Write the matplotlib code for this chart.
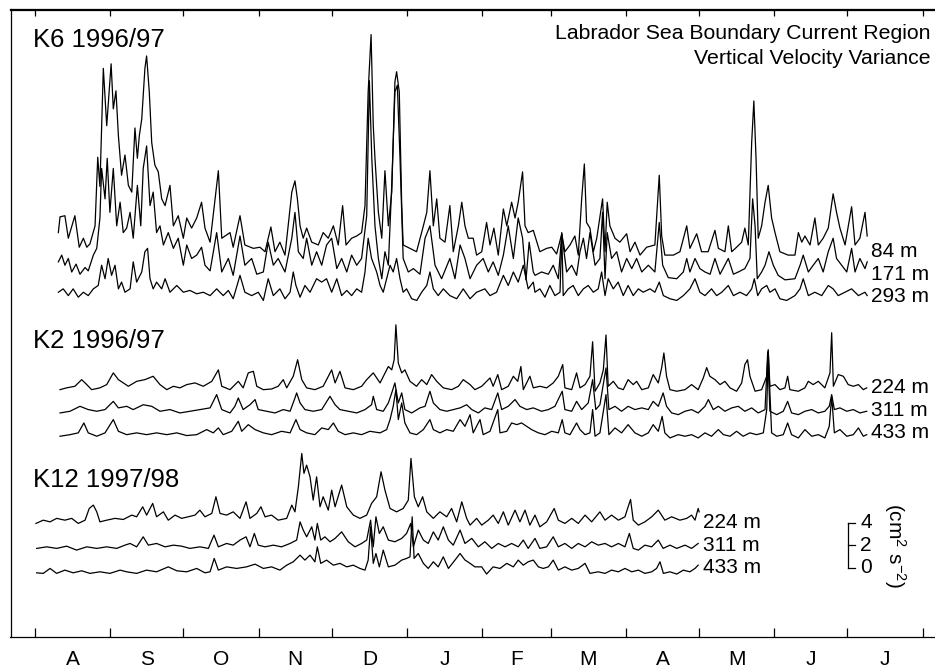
import numpy as np
import matplotlib
matplotlib.use('Agg')
import matplotlib.pyplot as plt

plt.rcParams['font.family'] = ['Liberation Sans', 'DejaVu Sans']
plt.rcParams['mathtext.fontset'] = 'custom'
plt.rcParams['mathtext.rm'] = 'Liberation Sans'
plt.rcParams['mathtext.it'] = 'Liberation Sans:italic'

# ---------------- data: days since 1 Aug, variance (cm^2 s^-2) ----------------
month_starts = [0, 31, 61, 92, 122, 153, 184, 212, 243, 273, 304, 334, 365]
month_labels = ['A', 'S', 'O', 'N', 'D', 'J', 'F', 'M', 'A', 'M', 'J', 'J']

k6_84_day = [9.6,10.3,12.3,13.7,16.4,18.2,19.9,21.3,22.6,24.7,
 25.8,26.7,28.1,29.5,31.3,32.2,33.3,34.3,35.6,37.0,
 38.4,39.8,41.1,42.1,42.9,43.9,45.2,45.9,47.0,48.0,
 49.3,50.7,52.1,53.5,55.5,56.9,58.9,61.0,62.4,64.4,
 66.5,68.5,69.9,72.0,75.4,76.8,80.2,81.5,84.3,86.3,
 89.8,92.5,94.6,97.0,98.7,100.7,102.8,105.6,106.9,107.9,
 109.0,110.3,111.7,113.8,116.5,118.5,120.6,122.7,124.7,126.5,
 127.9,130.2,132.3,134.3,135.7,137.0,138.2,139.1,139.8,141.2,
 142.6,143.9,145.3,146.7,148.0,148.7,149.8,150.8,151.4,154.2,
 156.9,159.7,161.1,162.4,163.8,165.2,166.5,168.6,170.6,172.0,
 174.1,175.5,176.8,178.2,180.2,181.6,183.7,185.7,187.1,188.7,
 190.5,192.6,194.0,196.0,197.4,198.7,200.5,201.5,202.8,204.9,
 207.6,210.4,212.5,214.5,216.6,217.9,220.0,222.0,223.4,224.8,
 225.9,226.8,228.2,229.6,231.0,233.4,234.4,235.3,236.4,238.5,
 240.5,243.3,244.7,246.7,248.8,251.5,254.9,256.7,257.7,259.0,
 262.5,265.2,268.0,269.3,272.1,274.1,276.8,279.6,281.0,283.7,
 285.1,286.5,288.5,290.6,291.9,293.3,294.7,295.6,296.5,297.4,
 298.8,300.2,301.5,302.9,304.3,306.3,309.7,312.5,313.9,315.3,
 316.6,318.7,320.7,322.1,324.1,326.2,328.2,329.6,331.0,333.1,
 335.8,337.2,339.2,341.3,342.2]
k6_84_val = [2.3,3.7,3.8,1.8,3.8,1.0,1.8,1.0,1.3,2.9,
 9.0,6.4,16.9,11.8,17.3,13.3,14.9,10.9,7.4,9.2,
 6.5,5.9,11.6,8.9,10.9,12.4,16.9,18.0,14.8,10.3,
 8.3,7.7,5.3,4.7,6.5,2.9,3.8,1.8,3.6,2.7,
 3.6,5.0,2.7,1.45,7.8,1.8,2.3,1.0,3.8,1.2,
 0.9,1.0,0.6,2.8,0.6,1.45,0.3,5.9,6.9,5.3,
 2.9,1.8,2.7,1.45,1.2,2.3,1.8,2.9,1.2,4.7,
 1.2,1.8,2.0,2.3,4.7,14.8,19.9,11.8,8.9,4.1,
 1.8,7.8,2.9,5.9,15.7,16.6,14.8,4.7,1.2,0.9,
 0.6,2.9,4.1,7.8,2.9,5.3,1.8,1.45,4.7,0.6,
 2.9,5.0,2.9,1.8,1.8,0.3,0.6,3.2,1.2,2.7,
 0.3,4.4,2.9,5.0,3.6,5.0,7.7,2.9,2.3,2.5,
 0.6,0.9,1.0,0.4,2.2,0.6,1.2,2.0,0.3,5.3,
 8.4,3.2,2.7,0.6,1.8,5.3,0.6,5.0,2.9,1.8,
 1.45,2.2,0.6,1.45,0.3,1.0,1.2,7.4,2.0,0.3,
 0.3,0.6,2.9,0.9,2.2,0.6,0.6,2.5,0.9,0.6,
 2.9,0.6,1.0,1.45,2.7,1.2,10.3,14.0,8.9,1.8,
 2.9,5.0,6.5,3.6,2.3,0.6,0.3,0.3,2.3,1.45,
 2.0,1.2,3.6,1.2,1.8,2.7,5.75,4.1,2.7,1.2,
 4.6,1.2,1.8,4.1,2.0]

k6_171_day = [9.6,11.0,12.3,13.7,15.1,16.9,18.5,20.6,21.9,24.0,
 25.4,26.7,27.4,28.8,29.7,30.8,32.2,33.6,35.0,36.3,
 37.7,39.1,40.4,42.1,43.5,44.5,45.9,47.3,48.6,50.0,
 51.4,52.8,54.8,56.9,58.9,61.0,62.4,64.4,66.5,68.5,
 69.9,72.0,74.7,76.8,79.5,81.5,84.3,86.3,89.1,91.2,
 93.9,95.9,98.0,100.0,102.8,105.6,106.9,108.3,110.3,111.7,
 113.8,115.8,117.9,119.9,122.0,124.1,126.1,128.2,130.2,132.3,
 134.3,136.4,137.5,138.5,139.8,141.2,142.6,143.9,145.3,146.7,
 148.0,149.0,150.1,151.4,153.5,155.6,158.3,160.4,162.4,164.5,
 167.2,170.6,172.7,174.8,176.8,178.9,181.6,184.3,186.4,188.4,
 190.5,192.6,194.6,196.7,198.7,200.5,201.9,203.2,204.9,205.6,
 208.3,211.1,213.1,215.2,216.6,218.6,220.7,222.7,224.1,225.5,
 226.8,228.2,230.3,232.3,233.4,234.4,235.3,237.1,239.2,241.2,
 243.3,245.4,247.4,249.5,252.2,254.9,256.7,258.1,260.4,263.9,
 266.6,268.0,269.3,271.4,273.4,275.5,277.6,279.6,281.7,285.1,
 287.2,289.2,291.9,294.0,295.1,296.1,297.0,298.8,300.2,301.8,
 303.6,305.6,308.4,312.5,314.6,315.9,318.0,320.0,322.1,324.1,
 326.2,328.2,329.6,331.7,333.8,335.8,337.2,339.2,341.3,342.2]
k6_171_val = [1.7,2.3,1.4,2.0,0.8,1.5,0.6,1.2,0.9,2.3,
 2.9,5.6,10.0,7.3,10.9,6.1,10.0,4.9,7.0,4.3,
 4.7,6.1,3.8,8.5,4.9,10.0,12.0,6.7,7.9,4.3,
 4.9,3.2,4.3,2.9,3.8,1.4,3.2,2.0,2.3,3.0,
 1.4,0.9,4.3,0.8,2.0,0.5,4.0,1.4,2.0,0.6,
 0.8,3.45,1.4,2.0,0.8,3.8,6.1,2.6,2.0,3.8,
 1.4,2.6,1.4,3.2,3.8,1.1,2.0,0.8,2.3,1.4,
 2.0,5.8,17.8,10.9,4.9,2.0,0.2,2.6,1.4,8.5,
 16.8,17.4,10.9,2.0,0.8,1.1,0.6,3.8,4.9,1.4,
 0.2,2.0,0.2,3.2,2.0,0.2,1.4,2.0,0.8,1.7,
 0.5,2.3,4.9,2.0,5.6,3.8,0.1,3.45,0.8,0.5,
 0.8,0.6,1.4,0.2,4.2,0.8,1.4,0.5,2.6,3.8,
 2.0,4.3,1.4,2.0,6.1,0.2,4.3,2.0,2.6,0.8,
 2.0,1.1,2.0,0.8,1.4,0.8,5.2,1.4,0.3,0.2,
 0.8,2.0,0.8,2.0,1.1,0.8,0.6,2.0,0.6,2.0,
 0.6,0.8,1.1,2.0,7.3,4.9,0.2,0.8,1.4,2.6,
 1.4,0.5,0.1,0.2,1.4,2.3,0.8,1.4,2.0,0.8,
 2.6,3.8,2.0,1.4,0.8,2.9,0.8,2.0,1.1,1.7]

k6_293_day = [9.6,11.6,13.7,15.7,17.8,19.9,21.9,24.0,26.0,27.4,
 28.8,30.1,31.5,32.9,34.3,35.6,37.0,39.1,40.4,41.8,
 43.9,45.2,46.3,47.3,48.6,50.0,52.1,53.5,55.5,58.3,
 61.0,63.7,66.5,69.2,72.0,74.7,77.4,79.5,81.5,84.3,
 86.3,89.1,91.8,93.9,95.9,98.0,100.7,102.8,104.9,106.2,
 107.3,109.0,111.0,113.1,115.8,117.9,119.9,122.0,124.1,126.1,
 128.2,130.2,132.3,134.3,135.7,137.0,138.4,140.5,141.9,143.2,
 144.6,146.0,147.3,148.7,150.1,151.4,152.8,154.9,157.0,159.0,
 161.1,162.4,163.8,165.8,167.9,170.6,173.4,176.1,178.9,181.6,
 185.0,187.1,189.8,192.6,194.6,196.7,198.7,200.8,202.8,204.9,
 205.6,207.6,209.7,211.7,213.8,215.9,216.6,217.2,219.3,221.3,
 223.4,225.5,227.5,229.6,231.6,233.0,234.4,235.7,237.8,239.8,
 241.9,243.9,246.0,248.1,250.1,252.9,254.9,256.7,258.4,261.1,
 263.9,266.6,269.3,271.4,273.4,275.5,278.2,280.3,282.4,285.1,
 287.2,289.9,292.6,294.7,295.8,297.2,298.8,300.9,302.2,304.3,
 306.3,309.1,312.5,314.6,315.9,318.0,320.7,323.5,326.2,328.2,
 330.3,333.1,335.8,338.6,341.3,342.2]
k6_293_val = [1.0,1.3,0.7,1.3,0.56,1.0,0.7,1.3,1.6,3.4,
 2.2,4.0,2.5,3.4,1.3,1.9,1.0,1.3,3.7,1.9,
 2.8,4.6,4.9,2.2,1.3,1.9,1.3,2.2,1.0,1.6,
 1.0,1.16,0.86,1.0,0.7,1.3,0.7,1.16,0.42,2.5,
 1.0,0.7,1.0,0.27,2.2,0.7,1.3,0.42,1.0,2.8,
 1.6,0.56,1.6,1.0,2.2,1.9,2.2,1.0,2.2,0.7,
 1.16,0.7,1.3,1.0,2.8,5.8,4.0,2.8,1.6,1.0,
 2.2,3.4,2.8,4.0,2.2,1.0,1.3,0.42,0.27,1.0,
 1.6,2.8,1.3,0.7,1.3,0.7,0.42,1.3,0.42,1.0,
 1.3,0.7,1.0,2.5,1.6,2.8,1.9,3.4,1.3,1.9,
 1.0,1.3,0.56,1.6,0.7,1.0,6.3,0.7,1.3,1.6,
 0.7,1.3,1.6,1.0,1.3,2.8,0.7,2.2,1.3,1.9,
 0.7,1.6,0.7,1.3,1.0,1.3,1.0,1.9,0.7,0.42,
 0.27,0.7,1.3,2.2,1.0,0.7,1.3,0.7,1.0,1.6,
 0.7,1.0,0.7,1.3,2.2,0.7,1.3,1.6,1.0,1.3,
 0.42,0.27,0.7,1.3,2.2,0.7,1.0,0.7,1.6,1.3,
 0.7,1.0,1.3,0.7,1.0,0.7]

k2_224_day = [10.3,13.0,16.4,19.2,21.3,23.3,26.7,29.5,32.2,34.3,
 36.3,38.4,41.8,45.2,48.6,51.4,54.2,56.9,59.6,62.4,
 65.8,69.2,72.7,75.4,76.8,80.2,83.6,85.6,87.7,89.8,
 91.2,93.9,97.3,100.0,102.1,103.5,106.2,108.0,109.7,111.7,
 115.1,118.5,122.0,123.4,125.4,127.5,130.9,134.3,136.4,139.1,
 141.9,145.3,146.7,147.7,148.4,149.4,150.8,152.1,154.2,156.9,
 159.0,161.1,163.1,165.2,167.9,171.3,174.1,176.1,178.9,180.9,
 183.7,187.1,188.4,190.3,191.9,194.6,196.7,198.5,199.8,200.8,
 203.5,204.9,207.6,210.4,213.1,215.2,217.0,217.9,220.7,222.7,
 224.1,226.2,228.2,229.3,230.3,232.3,233.7,234.8,235.7,237.8,
 239.8,241.9,243.9,246.0,247.4,249.5,252.2,254.2,256.3,257.7,
 258.6,259.7,261.1,263.9,267.3,270.0,272.7,274.8,276.2,277.5,
 279.6,281.7,283.7,285.8,288.5,290.6,291.9,293.0,294.0,296.1,
 298.8,300.9,301.5,302.2,304.3,306.3,308.4,309.5,310.4,313.9,
 316.6,318.0,320.0,322.1,324.8,326.9,327.6,328.3,330.3,332.4,
 334.4,336.5,338.6,340.6,342.0]
k2_224_val = [0.44,0.6,0.74,1.33,0.89,0.44,0.6,0.89,1.93,1.33,
 1.04,0.74,1.18,1.33,1.63,0.89,0.44,0.74,0.6,0.89,
 1.04,0.74,1.18,2.2,0.74,0.44,1.18,0.6,1.93,2.07,
 0.74,0.44,0.5,0.74,1.33,0.6,1.63,3.1,1.33,0.6,
 0.44,0.74,2.2,1.04,2.07,0.6,0.44,0.74,1.33,1.93,
 1.04,2.5,2.2,3.1,6.2,2.8,1.93,2.2,1.18,0.74,
 1.33,0.89,1.78,1.18,0.6,0.44,0.74,1.33,0.89,0.44,
 0.74,1.48,0.74,1.78,0.44,0.74,1.63,1.18,2.5,0.44,
 1.63,0.6,0.74,0.6,1.04,1.63,2.67,0.6,0.44,1.93,
 0.6,0.89,1.63,4.7,0.3,1.04,2.2,5.3,0.74,1.18,
 0.6,0.44,1.33,0.89,1.18,0.44,0.6,1.78,1.04,2.4,
 3.7,1.63,0.44,0.3,0.44,0.89,0.44,1.48,2.4,1.63,
 1.33,0.89,1.18,0.6,0.3,1.04,2.67,3.1,1.63,0.3,
 0.44,1.63,4.0,0.74,0.89,0.44,0.6,1.63,0.44,0.3,
 0.6,1.18,0.89,1.18,0.6,1.93,5.5,0.74,1.78,1.63,
 0.89,0.74,0.89,0.44,0.6]

k2_311_day = [10.3,14.4,18.5,21.9,25.4,28.8,32.2,34.3,37.7,40.4,
 44.5,48.0,51.4,55.5,59.6,63.7,67.8,72.0,74.7,76.8,
 80.2,82.2,83.6,85.6,88.4,90.5,91.8,95.3,98.7,102.1,
 104.9,106.9,107.6,109.0,111.0,114.4,117.9,121.3,123.4,125.4,
 128.8,132.3,135.7,138.4,139.1,140.5,143.2,145.3,146.7,148.0,
 149.4,150.8,152.1,154.9,158.3,160.4,162.4,163.8,166.5,169.3,
 172.0,174.8,177.5,179.6,182.3,185.0,187.8,190.3,191.9,194.6,
 197.4,199.4,202.2,204.9,208.3,211.1,213.8,216.8,217.9,220.7,
 222.7,224.8,227.5,229.3,230.6,232.3,234.8,236.0,238.5,241.2,
 243.9,246.7,249.5,252.2,254.2,256.3,258.3,259.7,261.8,264.5,
 267.3,270.0,272.7,275.5,276.9,278.9,281.0,283.7,286.5,289.2,
 291.9,294.7,297.4,300.2,301.3,302.2,305.0,307.7,309.5,311.1,
 313.9,316.6,319.4,322.1,324.8,326.6,327.6,328.7,331.0,333.8,
 336.5,339.2,342.0]
k2_311_val = [0.37,0.52,0.96,0.67,0.52,0.67,1.4,0.82,0.96,0.67,
 1.1,0.96,0.52,0.67,0.37,0.52,0.67,0.82,2.0,0.67,
 0.37,0.96,1.7,0.67,1.1,1.56,0.67,0.52,0.37,0.67,
 0.52,1.7,2.15,1.26,0.67,0.52,0.67,1.85,1.1,0.67,
 0.52,0.37,0.67,1.1,1.85,0.67,0.52,1.26,2.15,3.04,
 1.26,2.15,0.67,0.37,0.82,0.96,2.3,1.26,0.67,0.52,
 0.67,0.82,1.1,0.67,0.37,0.82,0.67,2.15,0.67,0.96,
 1.56,0.96,0.67,0.82,0.52,0.67,0.96,2.3,0.67,0.52,
 1.4,0.67,1.26,3.33,0.67,1.1,4.37,0.67,0.96,0.52,
 0.96,0.67,0.82,0.67,1.4,0.96,2.15,0.96,0.37,0.22,
 0.52,0.67,0.37,0.96,1.56,0.67,0.96,0.52,0.82,0.96,
 0.52,0.82,0.37,0.67,5.8,0.52,0.22,0.52,1.4,0.37,
 0.22,0.52,0.67,0.37,0.52,0.96,2.0,0.67,0.82,0.52,
 0.67,0.37,0.52]

k2_433_day = [10.3,14.4,17.8,20.1,21.9,25.4,28.8,32.2,34.3,37.7,
 41.8,45.9,50.0,54.2,58.3,62.4,66.5,70.6,73.3,75.4,
 77.4,80.9,83.6,85.0,87.7,90.5,93.9,97.3,101.4,104.9,
 107.3,109.0,111.7,115.1,117.9,120.6,122.7,124.7,127.5,130.9,
 134.3,137.7,141.9,144.6,146.0,147.3,148.4,149.4,150.8,152.1,
 154.2,156.9,159.7,162.4,163.8,166.5,169.3,172.0,174.8,176.8,
 178.9,180.2,183.0,184.3,187.1,190.3,191.2,194.0,196.0,198.1,
 200.1,202.2,204.2,207.0,209.7,212.5,215.2,216.8,217.9,220.0,
 222.7,224.1,226.2,228.2,229.3,230.3,232.3,234.8,236.0,238.5,
 241.2,243.9,246.7,249.5,252.2,254.2,256.3,257.9,259.0,261.1,
 264.5,267.3,270.0,272.7,275.5,278.2,281.0,283.1,285.8,288.5,
 291.2,294.0,296.7,299.5,300.9,301.5,302.9,305.0,307.7,309.5,
 311.1,313.9,316.6,319.4,322.1,324.8,326.6,327.6,328.7,331.0,
 333.8,336.5,338.6,340.6,342.0]
k2_433_val = [0.3,0.44,0.6,1.48,0.6,0.3,0.6,1.78,0.74,0.44,
 0.6,0.44,0.6,0.44,0.6,0.36,0.44,0.89,0.6,1.04,
 0.44,0.74,1.63,0.74,1.33,0.89,0.6,0.44,0.74,0.6,
 1.78,0.89,0.6,0.44,1.04,0.89,1.48,0.74,0.44,0.6,
 0.44,0.74,0.6,0.89,1.78,2.96,4.44,1.78,3.26,1.48,
 0.6,0.44,0.89,1.78,0.89,0.6,0.89,0.74,1.78,1.18,
 2.22,0.6,1.78,0.44,0.74,2.67,0.6,0.74,1.48,1.33,
 1.48,1.18,0.89,0.6,0.44,0.74,0.6,1.78,0.6,0.44,
 1.48,0.89,0.44,0.6,2.67,0.3,0.6,4.0,0.44,1.04,
 0.6,1.33,0.6,0.3,0.6,1.33,0.74,2.07,0.6,0.15,
 0.44,0.3,0.44,0.15,0.6,0.3,0.89,0.44,0.3,0.74,
 0.3,0.6,0.44,0.6,2.67,7.8,0.6,0.3,0.44,1.48,
 0.44,0.15,0.89,0.3,0.44,0.15,1.18,3.85,0.6,0.89,
 0.3,0.44,1.04,0.3,0.44]

k12_224_day = [0.4,3.4,6.2,8.9,12.3,15.1,17.8,20.6,22.3,24.0,
 25.4,26.7,29.5,32.9,36.3,39.8,41.8,44.3,45.9,48.4,
 50.0,52.8,54.8,57.6,60.3,63.0,65.8,67.8,69.9,72.7,
 74.4,76.1,78.8,81.5,84.3,86.8,88.4,91.2,92.9,94.6,
 97.3,100.0,103.5,105.6,106.9,108.3,109.7,110.6,111.7,113.1,
 114.4,115.8,117.2,118.5,120.6,122.0,123.4,126.1,128.2,130.9,
 133.6,136.4,138.4,140.5,142.3,143.9,146.0,148.7,151.4,153.5,
 154.6,156.0,157.6,159.4,161.1,163.8,166.5,169.3,171.3,173.4,
 175.5,177.5,178.9,181.6,183.7,186.4,188.4,190.5,192.6,194.6,
 197.4,199.4,201.5,203.5,205.6,207.6,210.4,213.5,215.2,217.9,
 220.7,223.4,226.2,228.9,232.3,234.4,237.1,239.9,242.6,243.9,
 244.9,246.0,248.1,250.8,253.6,256.3,259.0,261.8,265.2,268.0,
 270.0,271.4,272.7,273.1]
k12_224_val = [0.55,0.84,0.69,1.0,0.84,1.0,0.55,0.84,1.88,2.18,
 1.58,0.69,0.84,1.0,0.9,1.29,1.14,2.03,1.29,2.33,
 1.14,1.58,0.84,1.29,1.0,1.14,1.29,1.73,1.14,1.44,
 2.92,1.44,1.29,1.58,1.0,2.47,1.0,1.44,2.03,1.14,
 1.29,0.84,1.0,2.18,1.58,3.8,6.77,5.0,5.73,4.69,
 2.62,4.69,2.03,2.92,1.73,3.51,2.03,3.96,2.03,1.29,
 1.0,1.29,2.33,2.92,5.14,3.51,1.88,1.58,1.88,2.62,
 6.33,2.92,2.03,2.92,1.58,1.0,1.58,1.14,1.88,0.69,
 2.47,1.0,0.4,1.0,0.4,0.84,1.29,0.55,1.58,0.4,
 1.73,0.69,1.73,0.4,1.29,0.25,0.69,1.88,0.84,0.55,
 1.0,0.55,1.29,0.69,1.58,0.84,1.29,0.84,1.14,2.03,
 2.68,0.84,0.4,0.69,1.14,1.73,0.84,1.14,0.84,1.0,
 1.29,0.84,1.88,1.58]

k12_311_day = [0.7,4.8,8.9,13.0,17.1,21.3,25.4,29.5,33.6,37.0,
 39.1,41.8,44.5,46.6,50.0,53.5,56.9,60.3,63.7,67.8,
 71.3,73.6,75.4,78.8,81.5,84.3,86.8,88.4,90.2,91.8,
 94.6,98.0,101.4,104.9,107.6,109.0,110.3,111.7,113.8,115.1,
 116.1,117.5,119.2,121.3,123.4,126.1,128.8,131.6,134.3,136.4,
 138.0,139.1,140.2,141.6,143.2,145.3,148.0,150.8,152.8,154.5,
 155.6,157.6,159.7,161.7,163.8,165.8,167.9,170.0,172.0,174.8,
 176.8,179.6,182.3,185.0,187.8,190.5,193.3,196.0,198.7,200.8,
 202.8,205.6,207.6,210.4,213.1,215.2,217.9,220.7,223.4,226.2,
 228.9,231.6,234.4,237.1,239.9,242.6,244.4,246.0,248.1,250.8,
 253.6,256.3,258.3,261.1,263.9,267.3,270.0,272.7]
k12_311_val = [0.33,0.47,0.33,0.53,0.18,0.47,0.33,0.47,0.33,0.62,
 0.77,0.47,1.36,0.62,0.77,0.47,0.62,0.53,0.33,0.47,
 0.33,1.51,0.47,0.77,0.62,1.07,1.36,0.47,1.66,0.62,
 0.47,0.62,0.47,0.77,1.07,2.69,1.96,1.36,2.25,1.07,
 2.55,1.07,1.36,0.92,1.22,1.8,0.92,0.47,0.77,1.07,
 2.84,0.47,3.14,1.66,2.25,1.07,0.92,1.22,1.66,2.55,
 0.47,1.96,1.07,0.77,1.8,1.07,2.25,1.07,0.62,1.96,
 0.77,1.22,0.47,0.92,0.33,0.77,0.47,0.77,0.47,1.07,
 0.33,1.22,0.33,0.47,1.36,0.47,0.77,0.33,0.77,0.47,
 0.92,0.62,0.77,0.47,0.77,0.47,1.66,0.33,0.18,0.62,
 0.47,1.07,0.33,0.62,0.33,0.62,0.33,0.77]

k12_433_day = [0.7,3.4,6.2,8.9,12.3,15.7,19.2,22.6,26.7,30.8,
 35.0,37.7,41.8,45.9,50.0,54.8,58.3,62.4,66.5,69.9,
 72.0,73.7,75.4,78.8,82.9,87.0,90.5,93.9,97.3,100.7,
 103.5,106.2,109.0,111.0,113.1,115.1,116.1,117.5,119.9,122.7,
 125.4,128.2,130.9,133.6,135.7,137.0,138.0,139.1,140.2,141.6,
 143.2,145.3,148.0,150.8,152.8,154.2,155.1,155.9,157.6,159.7,
 161.7,163.8,165.8,167.9,170.0,172.7,174.8,176.8,178.9,180.9,
 183.7,185.7,188.4,191.2,194.0,196.7,198.7,200.8,202.8,204.9,
 207.0,209.0,211.1,213.1,215.2,217.9,220.7,223.4,226.2,228.2,
 231.6,234.4,237.1,239.9,242.6,245.4,248.1,250.8,253.6,255.6,
 257.0,258.4,261.1,263.9,266.6,269.3,271.4,272.7]
k12_433_val = [0.16,0.11,0.55,0.11,0.4,0.16,0.34,0.11,0.25,0.11,
 0.4,0.25,0.11,0.4,0.25,0.69,0.34,0.25,0.55,0.16,
 0.25,1.44,0.4,0.69,0.55,0.69,0.93,0.55,0.69,0.4,
 0.84,1.14,1.73,1.29,1.73,1.14,2.47,1.0,1.29,0.84,
 1.0,0.69,0.84,0.55,0.4,1.29,4.25,1.0,1.88,0.69,
 2.18,0.69,0.84,1.29,1.44,1.58,5.14,1.44,1.88,1.0,
 0.55,1.14,0.69,1.58,0.55,1.29,1.88,1.3,1.0,0.69,
 0.69,0.05,0.69,0.55,1.0,0.69,1.29,0.84,1.14,1.29,
 0.69,0.55,0.69,1.29,0.4,0.69,0.4,0.55,1.0,0.11,
 0.25,0.11,0.4,0.25,0.55,0.25,0.4,0.11,0.25,0.55,
 1.14,0.11,0.25,0.05,0.4,0.25,0.55,0.84]

panel_titles = ['K6 1996/97', 'K2 1996/97', 'K12 1997/98']
depth_labels = [['84 m', '171 m', '293 m'], ['224 m', '311 m', '433 m'], ['224 m', '311 m', '433 m']]
scale_ticks = [0, 2, 4]

# ---------------- layout ----------------
panel_offsets = [[33.2, 31.2, 29.2], [21.1, 19.1, 17.1], [9.1, 7.1, 5.1]]
title_y = [52.0, 25.24, 12.92]
label_x = [343.9, 343.9, 274.5]
panel_series = [
    [(k6_84_day, k6_84_val), (k6_171_day, k6_171_val), (k6_293_day, k6_293_val)],
    [(k2_224_day, k2_224_val), (k2_311_day, k2_311_val), (k2_433_day, k2_433_val)],
    [(k12_224_day, k12_224_val), (k12_311_day, k12_311_val), (k12_433_day, k12_433_val)],
]

W, H = 935, 667
fig = plt.figure(figsize=(W / 100, H / 100), dpi=100)
ax = fig.add_axes([10.5 / W, (H - 636.5) / H, 934.5 / W, 627.0 / H])
ax.set_xlim(-10.07, 374.2)
ax.set_ylim(-0.4, 55.33)

for p in range(3):
    for k, (d, v) in enumerate(panel_series[p]):
        ax.plot(d, panel_offsets[p][k] + np.asarray(v), color='k', lw=0.9)
        ax.text(label_x[p], panel_offsets[p][k] + 0.1, depth_labels[p][k],
                fontsize=15, ha='left', va='baseline')
    ax.text(-0.7, title_y[p], panel_titles[p], fontsize=18.5, ha='left', va='baseline')

ax.text(368.4, 52.7, 'Labrador Sea Boundary Current Region', fontsize=15.3,
        ha='right', va='baseline')
ax.text(368.4, 50.5, 'Vertical Velocity Variance', fontsize=15.3,
        ha='right', va='baseline')

# scale bar
sb_x, sb_y0, sb_tick = 334.2, 5.72, 3.0
ax.plot([sb_x, sb_x], [sb_y0 + scale_ticks[0], sb_y0 + scale_ticks[-1]], color='k', lw=0.9)
for t in scale_ticks:
    ax.plot([sb_x, sb_x + sb_tick], [sb_y0 + t] * 2, color='k', lw=0.9)
    ax.text(sb_x + 5.2, sb_y0 + t, str(t), fontsize=15, ha='left', va='center')
ax.text(353.6, sb_y0 + 2, r'(cm$^2$ s$^{-2}$)', fontsize=15, rotation=-90,
        ha='center', va='center')

# axes styling
ax.set_yticks([])
ax.spines['right'].set_visible(False)
for s in ['left', 'top', 'bottom']:
    ax.spines[s].set_linewidth(0.9)
ax.set_xticks(month_starts)
ax.set_xticklabels([])
ax.tick_params(axis='x', which='major', direction='in', length=6.7, width=0.9,
               bottom=True, top=False)
mids = [(month_starts[i] + month_starts[i + 1]) / 2 for i in range(12)]
ax.set_xticks(mids, minor=True)
ax.set_xticklabels(month_labels, minor=True)
ax.tick_params(axis='x', which='minor', length=0, pad=9.5, labelsize=15)

sec = ax.secondary_xaxis('top')
sec.set_xticks(month_starts)
sec.set_xticklabels([])
sec.tick_params(direction='in', length=4.8, width=0.9)
sec.spines['top'].set_linewidth(0.9)

fig.savefig('out.png', dpi=100)
